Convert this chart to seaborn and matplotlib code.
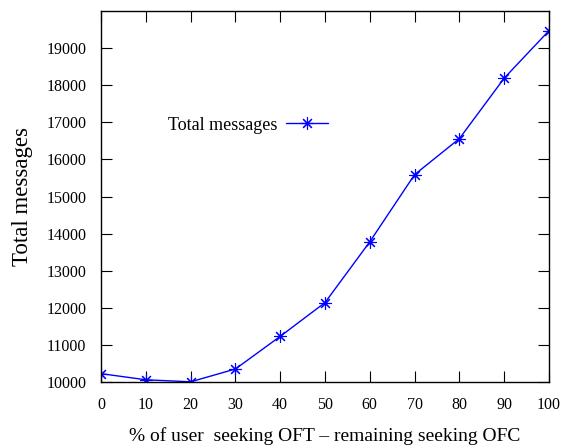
import matplotlib
matplotlib.use("Agg")
import matplotlib.pyplot as plt
import seaborn as sns
import pandas as pd

# Share of users seeking OFT (the rest seek OFC) and the resulting message totals
share_oft = [0, 10, 20, 30, 40, 50, 60, 70, 80, 90, 100]
total_messages = [10225, 10060, 10005, 10350, 11230, 12140, 13780,
                  15590, 16560, 18190, 19470]

x_ticks = [0, 10, 20, 30, 40, 50, 60, 70, 80, 90, 100]
y_ticks = [10000, 11000, 12000, 13000, 14000, 15000, 16000, 17000, 18000, 19000]

sns.set_style("ticks")
plt.rcParams["font.family"] = ["Liberation Serif", "DejaVu Serif"]
plt.rcParams["text.color"] = "black"

df = pd.DataFrame({"share": share_oft, "messages": total_messages})

fig = plt.figure(figsize=(5.65, 4.48), dpi=100)
ax = fig.add_axes([101 / 565, 1 - 382 / 448, 448 / 565, 371 / 448])

sns.lineplot(data=df, x="share", y="messages", ax=ax,
             color="#0000ff", linewidth=1.0,
             marker=(8, 2, 0), markersize=9, markeredgewidth=0.8,
             markeredgecolor="#0000ff", label="Total messages")

ax.set_xlim(0, 100)
ax.set_ylim(10000, 20000)
ax.set_xticks(x_ticks)
ax.set_yticks(y_ticks)
ax.set_xticklabels([str(v) for v in x_ticks])
ax.set_yticklabels([str(v) for v in y_ticks])

ax.tick_params(axis="both", direction="in", top=True, right=True,
               length=8, width=0.8, color="black", labelsize=11.5,
               labelcolor="black")
ax.tick_params(axis="y", pad=10.5)
ax.tick_params(axis="x", pad=11)

for side in ["left", "right", "top", "bottom"]:
    ax.spines[side].set_visible(True)
    ax.spines[side].set_color("black")
    ax.spines[side].set_linewidth(1.0)

ax.set_xlabel("% of user  seeking OFT \u2013 remaining seeking OFC",
              fontsize=14, color="black", labelpad=10)
ax.set_ylabel("Total messages", fontsize=16.5, color="black", labelpad=10)

leg = ax.legend(loc="center right", bbox_to_anchor=(328 / 565, 1 - 125 / 448),
                bbox_transform=fig.transFigure, frameon=False,
                markerfirst=False, fontsize=13, handlelength=2.3,
                handletextpad=0.5, borderpad=0, borderaxespad=0,
                labelcolor="black")

fig.savefig("out.png", dpi=100)
